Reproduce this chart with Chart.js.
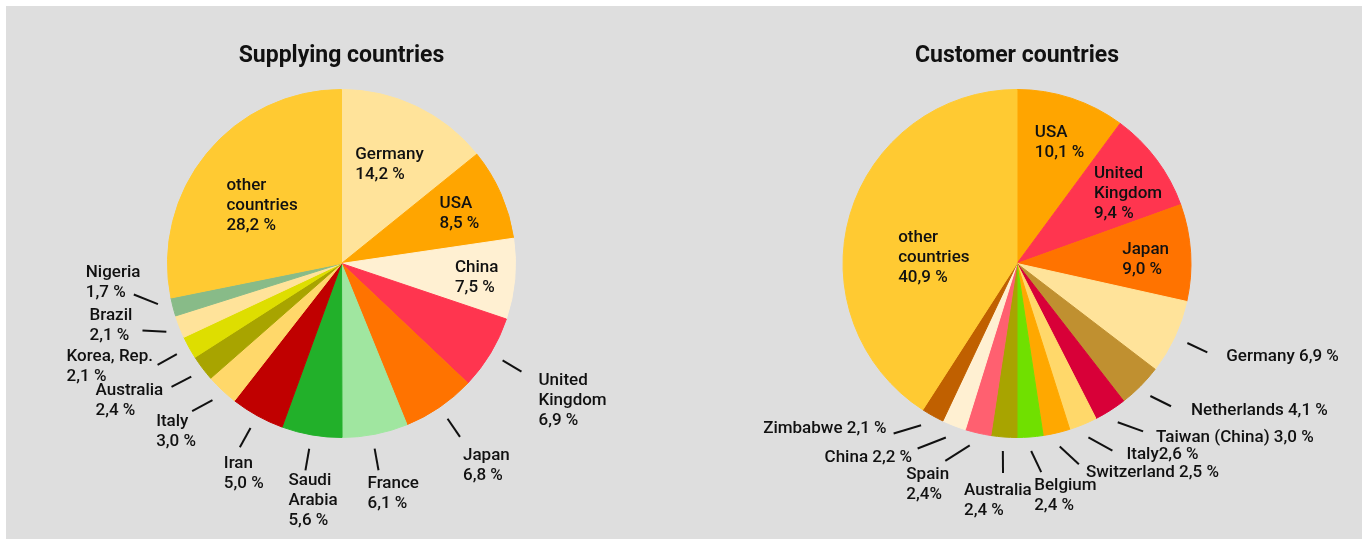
<!DOCTYPE html>
<html>
<head>
<meta charset="utf-8">
<title>Supplying and customer countries</title>
<script src="https://cdn.jsdelivr.net/npm/chart.js@4.4.0/dist/chart.umd.min.js"></script>
<style>
    html, body { margin: 0; padding: 0; background: #fff; overflow: hidden; }
    #panel { position: absolute; left: 6px; top: 6px; width: 1356px; height: 533px; background: #dedede; }
    .box { position: absolute; top: 0; width: 683px; height: 539px; }
</style>
</head>
<body>
<div id="panel"></div>
<div class="box" style="left:0"><canvas id="supplyChart"></canvas></div>
<div class="box" style="left:683px"><canvas id="customerChart"></canvas></div>

<script>
// shares in %, clockwise from 12 o'clock
const supplyCountries = ['Germany', 'USA', 'China', 'United Kingdom', 'Japan', 'France', 'Saudi Arabia',
    'Iran', 'Italy', 'Australia', 'Korea, Rep.', 'Brazil', 'Nigeria', 'other countries'];
const supplyShares = [14.2, 8.5, 7.5, 6.9, 6.8, 6.1, 5.6, 5.0, 3.0, 2.4, 2.1, 2.1, 1.7, 28.2];

const customerCountries = ['USA', 'United Kingdom', 'Japan', 'Germany', 'Netherlands', 'Taiwan (China)',
    'Italy', 'Switzerland', 'Belgium', 'Australia', 'Spain', 'China', 'Zimbabwe', 'other countries'];
const customerShares = [10.1, 9.4, 9.0, 6.9, 4.1, 3.0, 2.6, 2.5, 2.4, 2.4, 2.4, 2.2, 2.1, 40.9];

const supplyColors = ['#ffe39a', '#ffa500', '#fff0d2', '#ff354f', '#ff7300', '#a0e6a0', '#22b02a',
    '#c00000', '#ffd86a', '#a8a400', '#dede00', '#ffe39a', '#88bb88', '#ffca32'];
const customerColors = ['#ffa500', '#ff354f', '#ff7300', '#ffe39a', '#c09030', '#d80038', '#ffd86a',
    '#ffa800', '#70e000', '#a8a400', '#ff6070', '#fff0d2', '#c06000', '#ffca32'];

// label placement: r = inside (fraction of radius), otherwise leader line + text offset
const supplyLabelLayout = [
    { lines: ['Germany', '{v}'], r: 0.64 },
    { lines: ['USA', '{v}'], r: 0.74 },
    { lines: ['China', '{v}'], r: 0.78 },
    { lines: ['United', 'Kingdom', '{v}'], dx: 17, dy: 7 },
    { lines: ['Japan', '{v}'], dx: 3, dy: 17 },
    { lines: ['France', '{v}'], a1: 1, a2: 1, dx: -11, dy: 12 },
    { lines: ['Saudi', 'Arabia', '{v}'], dx: -17, dy: 8 },
    { lines: ['Iran', '{v}'], dx: -16, dy: 14 },
    { lines: ['Italy', '{v}'], a2: 2, dx: -36, dy: 9 },
    { lines: ['Australia', '{v}'], a2: 1, dx: -76, dy: 2 },
    { lines: ['Korea, Rep.', '{v}'], dx: -91, dy: -10 },
    { lines: ['Brazil', '{v}'], a2: 2.7, dx: -53, dy: -17 },
    { lines: ['Nigeria', '{v}'], a1: 2, a2: 6, dx: -48, dy: -24 },
    { lines: ['other', 'countries', '{v}'], r: 0.57, da: -2.5 }
];

const customerLabelLayout = [
    { lines: ['USA', '{v}'], r: 0.745, da: 1 },
    { lines: ['United', 'Kingdom', '{v}'], r: 0.76, da: 3.8 },
    { lines: ['Japan', '{v}'], r: 0.74, da: 1 },
    { lines: ['Germany {v}'], dx: 19, dy: 2.5 },
    { lines: ['Netherlands {v}'], a2: -2, dx: 20, dy: 3 },
    { lines: ['Taiwan (China) {v}'], a2: -4.5, dx: 13, dy: 4 },
    { lines: ['Italy{v}'], a2: -4.7, dx: 14, dy: 2 },
    { lines: ['Switzerland {v}'], a2: -4, dx: 7, dy: 7 },
    { lines: ['Belgium', '{v}'], a2: -2.3, dx: -7, dy: 11.5 },
    { lines: ['Australia', '{v}'], a2: -0.5, dx: -39, dy: 16 },
    { lines: ['Spain', '{v}'], tight: true, a1: 1.6, a2: 7, dx: -39, dy: 12 },
    { lines: ['China {v}'], a1: 1, a2: 7, align: 'right', dx: -5.5, dy: 7 },
    { lines: ['Zimbabwe {v}'], a1: 1.7, a2: 7, align: 'right', dx: -7, dy: -7 },
    { lines: ['other', 'countries', '{v}'], r: 0.48, da: -11 }
];

const FONT = 'Roboto, "Liberation Sans", sans-serif';
const LINE_H = 20;
const TEXT_SHIFT = 2;
const RAD = Math.PI / 180;

function formatShare(v, tight) {
    return v.toFixed(1).replace('.', ',') + (tight ? '%' : ' %');
}

function polar(cx, cy, r, a) {
    return { x: cx + r * Math.cos(a), y: cy + r * Math.sin(a) };
}

// draws the slice labels and leader lines
const sliceLabels = {
    id: 'sliceLabels',
    afterDatasetsDraw(chart, args, opts) {
        const ctx = chart.ctx;
        const meta = chart.getDatasetMeta(0);
        const values = chart.data.datasets[0].data;

        ctx.save();
        ctx.font = '500 17px ' + FONT;
        ctx.fillStyle = '#111';
        ctx.strokeStyle = '#111';
        ctx.lineWidth = 2;
        ctx.textBaseline = 'middle';

        meta.data.forEach((arc, i) => {
            const lay = opts.layout[i];
            const p = arc.getProps(['x', 'y', 'startAngle', 'endAngle', 'outerRadius'], true);
            const mid = (p.startAngle + p.endAngle) / 2;
            const lines = lay.lines.map(s => s.replace('{v}', formatShare(values[i], lay.tight)));

            if (lay.r) {
                const c = polar(p.x, p.y, p.outerRadius * lay.r, mid + (lay.da || 0) * RAD);
                const w = Math.max(...lines.map(s => ctx.measureText(s).width));
                ctx.textAlign = 'left';
                lines.forEach((s, k) => {
                    ctx.fillText(s, c.x - w / 2, c.y + TEXT_SHIFT + (k - (lines.length - 1) / 2) * LINE_H);
                });
            } else {
                const a = polar(p.x, p.y, p.outerRadius + 14, mid + (lay.a1 || 0) * RAD);
                const b = polar(p.x, p.y, p.outerRadius + 36, mid + (lay.a2 || 0) * RAD);
                ctx.beginPath();
                ctx.moveTo(a.x, a.y);
                ctx.lineTo(b.x, b.y);
                ctx.stroke();
                ctx.textAlign = lay.align || 'left';
                lines.forEach((s, k) => {
                    ctx.fillText(s, b.x + lay.dx, b.y + lay.dy + TEXT_SHIFT + k * LINE_H);
                });
            }
        });
        ctx.restore();
    }
};

function makePie(canvasId, title, labels, values, colors, layout, padRight) {
    return new Chart(document.getElementById(canvasId), {
        type: 'pie',
        data: {
            labels: labels,
            datasets: [{
                data: values,
                backgroundColor: colors,
                borderColor: colors,
                borderWidth: 1
            }]
        },
        options: {
            responsive: true,
            maintainAspectRatio: false,
            animation: false,
            events: [],
            layout: { padding: { top: 0, bottom: 101, left: 0, right: padRight } },
            plugins: {
                legend: { display: false },
                tooltip: { enabled: false },
                title: {
                    display: true,
                    text: title,
                    color: '#111',
                    font: { family: FONT, size: 23, weight: 'bold' },
                    padding: { top: 42, bottom: 19.4 }
                },
                sliceLabels: { layout: layout }
            }
        },
        plugins: [sliceLabels]
    });
}

makePie('supplyChart', 'Supplying countries', supplyCountries, supplyShares, supplyColors, supplyLabelLayout, 0);
makePie('customerChart', 'Customer countries', customerCountries, customerShares, customerColors, customerLabelLayout, 15);
</script>
</body>
</html>
